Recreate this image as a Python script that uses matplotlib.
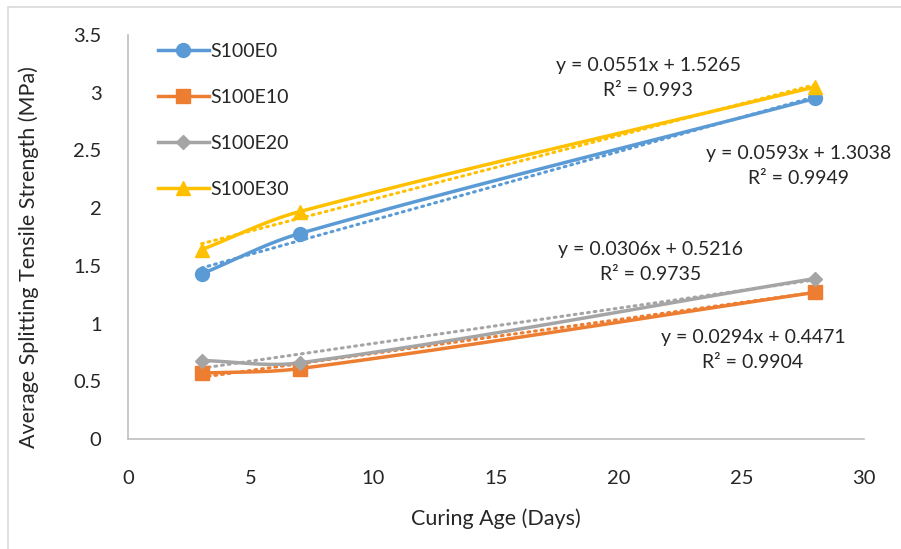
import matplotlib.pyplot as plt
import numpy as np
from matplotlib.patches import Rectangle

# Daten
days = [3, 7, 28]
series_names = ['S100E0', 'S100E10', 'S100E20', 'S100E30']
s100e0 = [1.43, 1.78, 2.95]
s100e10 = [0.57, 0.61, 1.27]
s100e20 = [0.68, 0.66, 1.39]
s100e30 = [1.64, 1.97, 3.05]
# Trendlinien (Excel): Steigung, Achsenabschnitt, R²
trend_slope = [0.0593, 0.0294, 0.0306, 0.0551]
trend_icpt = [1.3038, 0.4471, 0.5216, 1.5265]
trend_r2 = ['0.9949', '0.9904', '0.9735', '0.993']

colors = ['#5B9BD5', '#ED7D31', '#A5A5A5', '#FFC000']
markers = ['o', 's', 'D', '^']
msizes = [10, 10, 7, 10]

W, H = 901, 549
plt.rcParams['font.family'] = ['Lato', 'DejaVu Sans']
fig = plt.figure(figsize=(W / 100, H / 100), dpi=100)
ax = fig.add_axes([128 / W, 1 - 439 / H, (864 - 128) / W, (439 - 35) / H])
ax.set_xlim(0, 30)
ax.set_ylim(0, 3.5)
ax.set_xticks(range(0, 31, 5))
ax.set_yticks(np.arange(0, 3.51, 0.5))
ax.set_yticklabels(['0', '0.5', '1', '1.5', '2', '2.5', '3', '3.5'])
ax.tick_params(length=0, labelsize=14.5, colors='#262626')
ax.tick_params(axis='x', pad=22)
ax.tick_params(axis='y', pad=19)
for s in ['top', 'right']:
    ax.spines[s].set_visible(False)
for s in ['left', 'bottom']:
    ax.spines[s].set_color('#BFBFBF')
    ax.spines[s].set_linewidth(1.2)
ax.set_xlabel('Curing Age (Days)', fontsize=15.5, color='#262626')
ax.set_ylabel('Average Splitting Tensile Strength (MPa)', fontsize=15.5, color='#262626')
ax.xaxis.set_label_coords(0.5, -0.173)
ax.yaxis.set_label_coords(-0.121, 0.45)


def excel_smooth(xs, ys, n=60):
    # Geglaettete Linie (Bezier) im Anzeige-Koordinatensystem
    pts = ax.transData.transform(np.column_stack([xs, ys]))
    k = len(pts)
    tang = []
    for i in range(k):
        a = pts[max(i - 1, 0)]
        b = pts[min(i + 1, k - 1)]
        d = b - a
        tang.append(d / np.hypot(*d))
    out = []
    for i in range(k - 1):
        p0, p3 = pts[i], pts[i + 1]
        L = np.hypot(*(p3 - p0)) / 3
        p1 = p0 + tang[i] * L
        p2 = p3 - tang[i + 1] * L
        t = np.linspace(0, 1, n)[:, None]
        seg = (1 - t) ** 3 * p0 + 3 * (1 - t) ** 2 * t * p1 + 3 * (1 - t) * t ** 2 * p2 + t ** 3 * p3
        out.append(seg)
    out = np.vstack(out)
    return ax.transData.inverted().transform(out).T


all_series = [s100e0, s100e10, s100e20, s100e30]
for name, vals, c, m, ms in zip(series_names, all_series, colors, markers, msizes):
    sx, sy = excel_smooth(days, vals)
    ax.plot(sx, sy, color=c, linewidth=2.5, zorder=3)
    ax.plot(days, vals, linestyle='none', marker=m, markersize=ms, color=c, zorder=4)
    ax.plot([], [], color=c, linewidth=2.5, marker=m, markersize=ms, label=name)

# Trendlinien gepunktet
for a, b, c in zip(trend_slope, trend_icpt, colors):
    tx = np.array([days[0], days[-1]])
    ax.plot(tx, a * tx + b, color=c, linewidth=2.2, linestyle=(0, (0.6, 1.6)),
            dash_capstyle='round', zorder=2)

# Gleichungen
eq_pos = [(799, 154), (753, 337), (651, 250), (648, 66)]
for (px, py), a, b, r2 in zip(eq_pos, trend_slope, trend_icpt, trend_r2):
    fig.text(px / W, 1 - py / H, f'y = {a:.4f}x + {b:.4f}', ha='center', va='center',
             fontsize=14, color='#262626')
    fig.text(px / W, 1 - (py + 25) / H, f'R² = {r2}', ha='center', va='center',
             fontsize=14, color='#262626')

leg = ax.legend(loc='upper left', bbox_to_anchor=(0.017, 1.023), frameon=False,
                fontsize=14, labelspacing=1.48, handlelength=2.6, handletextpad=0.1)
for t in leg.get_texts():
    t.set_color('#262626')

# Rahmen
fig.patches.append(Rectangle((8 / W, -0.1), 1.2, 1 - 7 / H + 0.1, transform=fig.transFigure,
                             fill=False, edgecolor='#D9D9D9', linewidth=1.2))

fig.savefig('out.png', dpi=100)
